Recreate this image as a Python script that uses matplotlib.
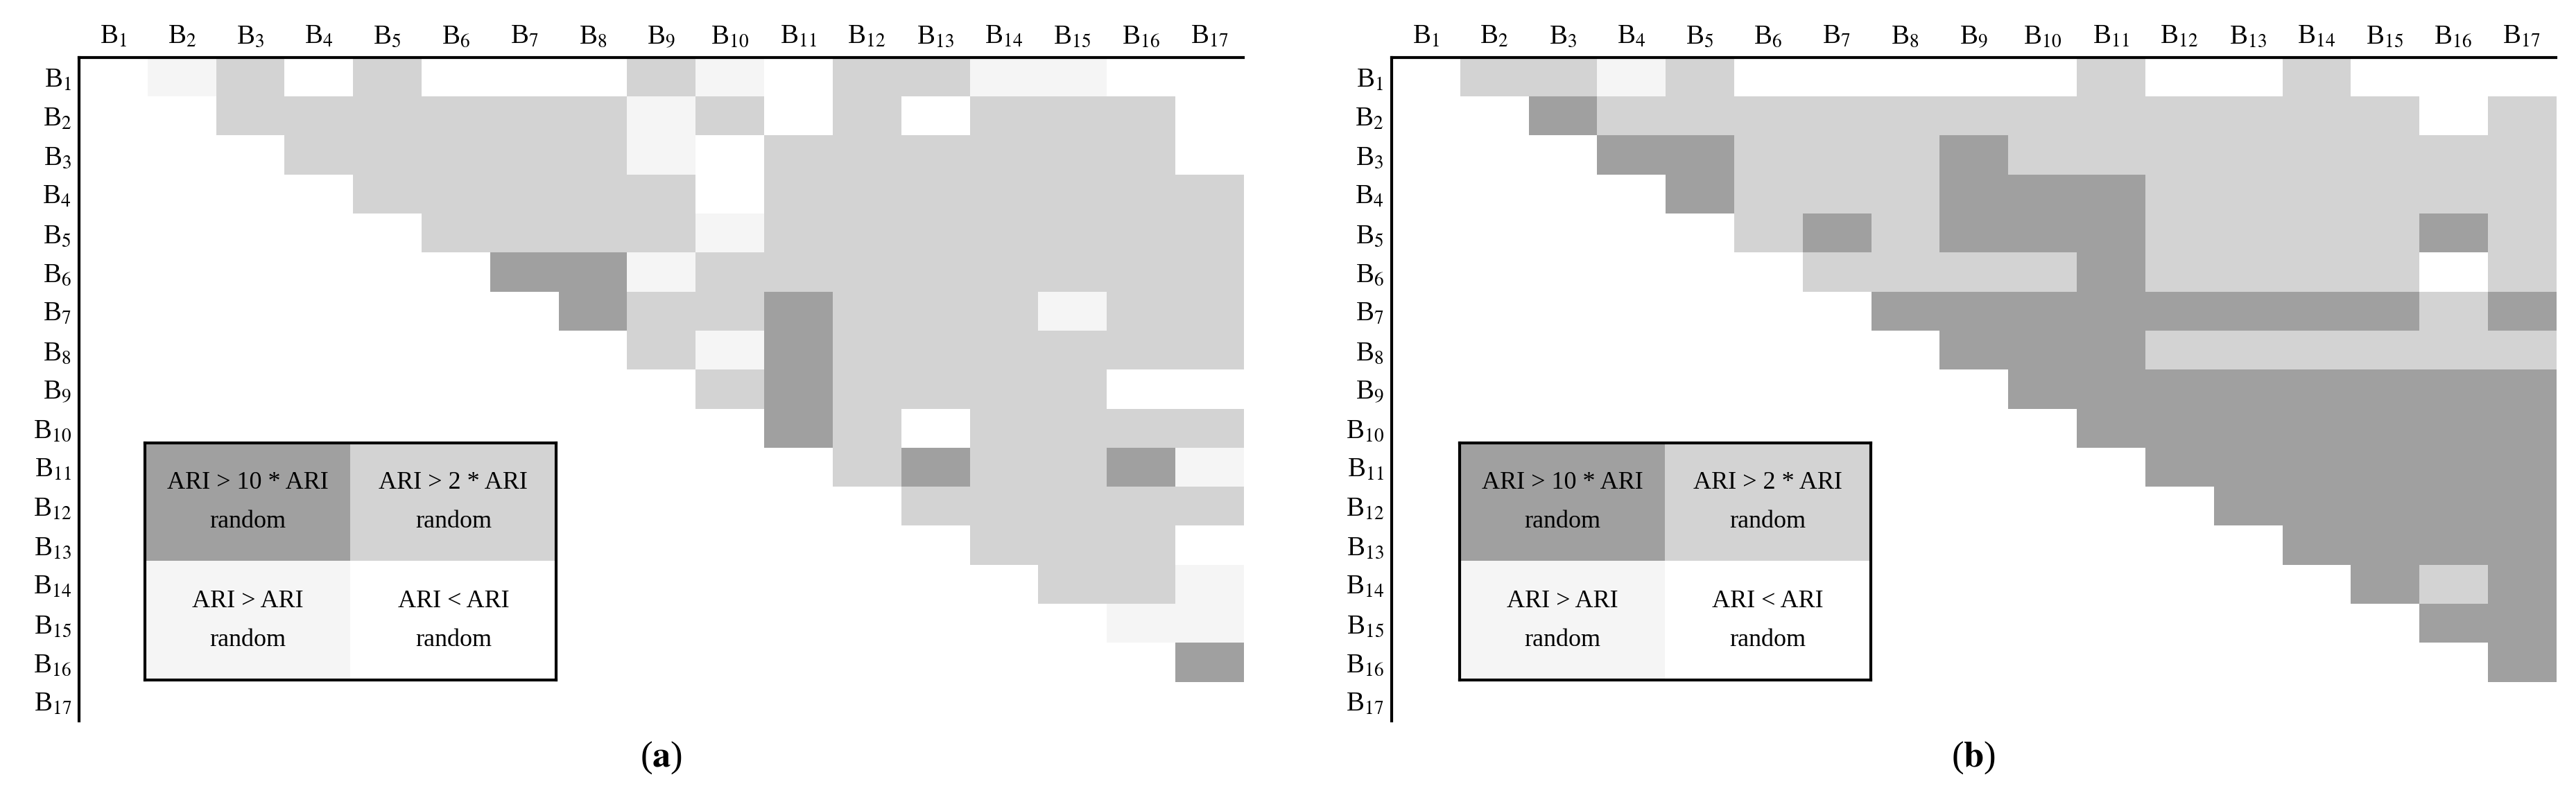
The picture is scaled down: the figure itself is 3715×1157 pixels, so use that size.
import numpy as np
import matplotlib.pyplot as plt
from matplotlib.colors import ListedColormap

# 0: ARI < ARI random, 1: ARI > ARI random, 2: ARI > 2*ARI random, 3: ARI > 10*ARI random
# each row i lists the levels for columns i+1 .. 17
rows_a = [
    [1, 2, 0, 2, 0, 0, 0, 2, 1, 0, 2, 2, 1, 1, 0, 0],
    [2, 2, 2, 2, 2, 2, 1, 2, 0, 2, 0, 2, 2, 2, 0],
    [2, 2, 2, 2, 2, 1, 0, 2, 2, 2, 2, 2, 2, 0],
    [2, 2, 2, 2, 2, 0, 2, 2, 2, 2, 2, 2, 2],
    [2, 2, 2, 2, 1, 2, 2, 2, 2, 2, 2, 2],
    [3, 3, 1, 2, 2, 2, 2, 2, 2, 2, 2],
    [3, 2, 2, 3, 2, 2, 2, 1, 2, 2],
    [2, 1, 3, 2, 2, 2, 2, 2, 2],
    [2, 3, 2, 2, 2, 2, 0, 0],
    [3, 2, 0, 2, 2, 2, 2],
    [2, 3, 2, 2, 3, 1],
    [2, 2, 2, 2, 2],
    [2, 2, 2, 0],
    [2, 2, 1],
    [1, 1],
    [3],
]
rows_b = [
    [2, 2, 1, 2, 0, 0, 0, 0, 0, 2, 0, 0, 2, 0, 0, 0],
    [3, 2, 2, 2, 2, 2, 2, 2, 2, 2, 2, 2, 2, 0, 2],
    [3, 3, 2, 2, 2, 3, 2, 2, 2, 2, 2, 2, 2, 2],
    [3, 2, 2, 2, 3, 3, 3, 2, 2, 2, 2, 2, 2],
    [2, 3, 2, 3, 3, 3, 2, 2, 2, 2, 3, 2],
    [2, 2, 2, 2, 3, 2, 2, 2, 2, 0, 2],
    [3, 3, 3, 3, 3, 3, 3, 3, 2, 3],
    [3, 3, 3, 2, 2, 2, 2, 2, 2],
    [3, 3, 3, 3, 3, 3, 3, 3],
    [3, 3, 3, 3, 3, 3, 3],
    [3, 3, 3, 3, 3, 3],
    [3, 3, 3, 3, 3],
    [3, 3, 3, 3],
    [3, 2, 3],
    [3, 3],
    [3],
]
labels = [f'B$_{{{i}}}$' for i in range(1, 18)]
legend_text = [['ARI > 10 * ARI\nrandom', 'ARI > 2 * ARI\nrandom'],
               ['ARI > ARI\nrandom', 'ARI < ARI\nrandom']]
legend_levels = [[3, 2], [1, 0]]

cmap = ListedColormap(['#ffffff', '#f5f5f5', '#d3d3d3', '#a0a0a0'])
plt.rcParams['font.family'] = ['Liberation Serif', 'DejaVu Serif']
plt.rcParams['mathtext.fontset'] = 'stix'


def to_matrix(rows):
    n = len(rows) + 1
    m = np.zeros((n, n), dtype=int)
    for i, r in enumerate(rows):
        m[i, i + 1:] = r
    return m


fig = plt.figure(figsize=(37.15, 11.57), dpi=100)

panels = [(rows_a, 0.0307, 0.0563, 'a'), (rows_b, 0.5402, 0.5666, 'b')]
for rows, x0, lx0, tag in panels:
    ax = fig.add_axes([x0, 0.101, 0.452, 0.827])
    ax.imshow(to_matrix(rows), cmap=cmap, vmin=-0.5, vmax=3.5, aspect='auto',
              interpolation='nearest')
    ax.set_xticks(range(17))
    ax.set_yticks(range(17))
    ax.set_xticklabels(labels, fontsize=28)
    ax.set_yticklabels(labels, fontsize=28)
    ax.xaxis.tick_top()
    ax.tick_params(length=0, pad=8)
    for s in ['right', 'bottom']:
        ax.spines[s].set_visible(False)
    for s in ['top', 'left']:
        ax.spines[s].set_linewidth(3)
    fig.text(x0 + 0.226, 0.055, '(' + r'$\mathbf{' + tag + '}$' + ')',
             ha='center', va='center', fontsize=38)

    lax = fig.add_axes([lx0, 0.152, 0.1596, 0.296])
    lax.imshow(np.array(legend_levels), cmap=cmap, vmin=-0.5, vmax=3.5,
               aspect='auto', interpolation='nearest')
    for r in range(2):
        for c in range(2):
            lax.text(c, r, legend_text[r][c], ha='center', va='center',
                     fontsize=26, linespacing=1.9)
    lax.set_xticks([])
    lax.set_yticks([])
    for s in lax.spines.values():
        s.set_linewidth(3)

fig.savefig('out.png', dpi=100)
